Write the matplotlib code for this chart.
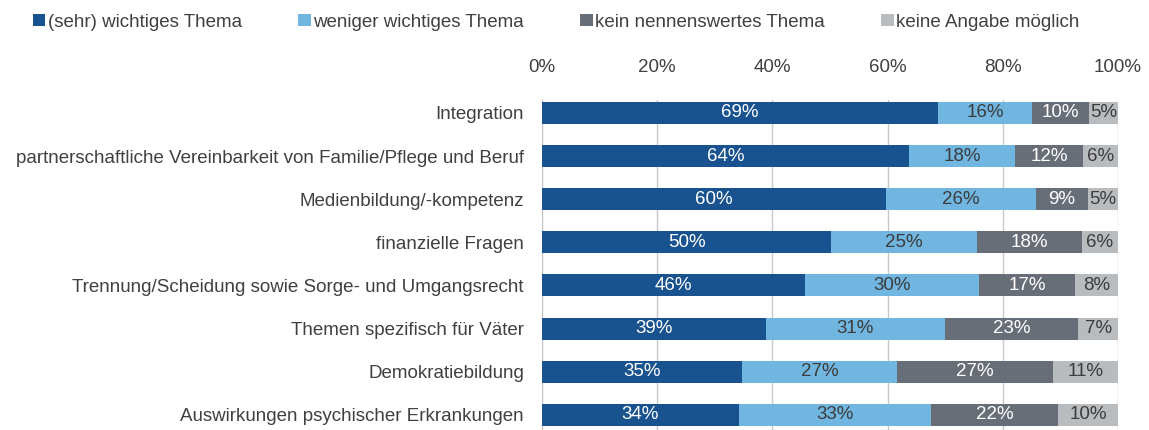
import numpy as np
import matplotlib.pyplot as plt
from matplotlib.patches import Patch

plt.rcParams['font.family'] = ['Liberation Sans', 'DejaVu Sans']

categories = [
    "Integration",
    "partnerschaftliche Vereinbarkeit von Familie/Pflege und Beruf",
    "Medienbildung/-kompetenz",
    "finanzielle Fragen",
    "Trennung/Scheidung sowie Sorge- und Umgangsrecht",
    "Themen spezifisch für Väter",
    "Demokratiebildung",
    "Auswirkungen psychischer Erkrankungen",
]
series_names = [
    "(sehr) wichtiges Thema",
    "weniger wichtiges Thema",
    "kein nennenswertes Thema",
    "keine Angabe möglich",
]
sehr_wichtig = [68.8, 63.8, 59.7, 50.2, 45.6, 38.9, 34.7, 34.2]
weniger_wichtig = [16.2, 18.3, 26.1, 25.3, 30.3, 31.0, 27.0, 33.4]
kein_thema = [9.9, 11.9, 9.0, 18.2, 16.6, 23.2, 27.0, 22.0]
keine_angabe = [5.1, 6.0, 5.2, 6.3, 7.5, 6.9, 11.3, 10.4]

colors = ["#18528f", "#70b6e0", "#686e78", "#b9bcbf"]
text_colors = ["white", "#3c3c3c", "white", "#3c3c3c"]
fs = 13.5

fig = plt.figure(figsize=(11.49, 4.30), dpi=100)
ax = fig.add_axes([0.4717, 0.0, 0.5013, 0.7674])

y = np.arange(len(categories))
left = np.zeros(len(categories))
for vals, name, c, tc in zip([sehr_wichtig, weniger_wichtig, kein_thema, keine_angabe],
                             series_names, colors, text_colors):
    vals = np.array(vals)
    bars = ax.barh(y, vals, left=left, height=0.51, color=c, label=name, zorder=3)
    ax.bar_label(bars, labels=[f"{v:.0f}%" for v in vals], label_type="center",
                 color=tc, fontsize=fs)
    left += vals

ax.set_xlim(0, 100)
ax.set_ylim(7.35, -0.3)
ax.set_yticks(y)
ax.set_yticklabels(categories, fontsize=fs, color="#404040")
ax.set_xticks(np.arange(0, 101, 20))
ax.set_xticklabels([f"{t}%" for t in range(0, 101, 20)], fontsize=fs, color="#404040")
ax.xaxis.tick_top()
ax.tick_params(axis="both", length=0)
ax.tick_params(axis="x", pad=17)
ax.tick_params(axis="y", pad=13)
ax.grid(axis="x", color="#c8c8c8", linewidth=1, zorder=0)
for s in ["top", "right", "bottom"]:
    ax.spines[s].set_visible(False)
ax.spines["left"].set_color("#c8c8c8")

handles = [Patch(facecolor=c, edgecolor="none") for c in colors]
fig.legend(handles, series_names, loc="upper left", bbox_to_anchor=(0.0287, 0.968),
           ncol=4, frameon=False, fontsize=fs, handlelength=0.65, handleheight=0.65,
           handletextpad=0.15, columnspacing=3.0, labelcolor="#404040",
           borderpad=0, borderaxespad=0)

fig.savefig("out.png", dpi=100)
